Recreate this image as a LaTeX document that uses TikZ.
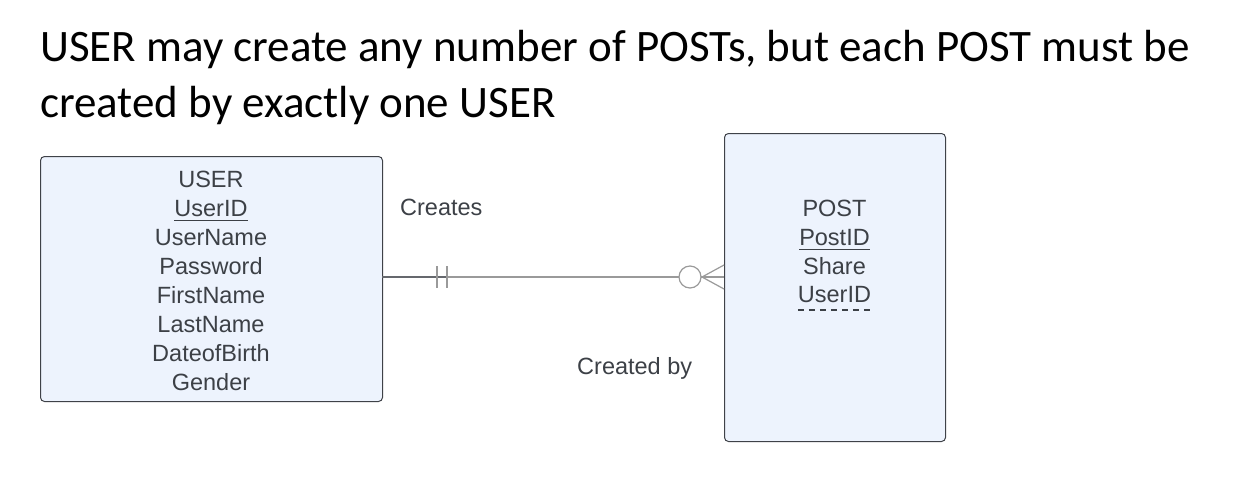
\documentclass[tikz,border=0pt]{standalone}
\usepackage{fontspec}
\setmainfont{Liberation Sans}
\newfontfamily\titlefont{Carlito}
\definecolor{boxfill}{HTML}{EDF3FD}
\definecolor{boxline}{HTML}{3F4248}
\definecolor{txt}{HTML}{3C4046}
\definecolor{relline}{HTML}{9A9A9A}
\begin{document}
\begin{tikzpicture}[x=1pt,y=-1pt,
  entity/.style={draw=boxline,fill=boxfill,line width=1pt,rounded corners=4pt,inner sep=0,anchor=north west},
  attr/.style={inner sep=0,anchor=base,text=txt,font=\fontsize{23.5}{28}\selectfont},
  lbl/.style={inner sep=0,anchor=base west,text=txt,font=\fontsize{23.5}{28}\selectfont},
  ttl/.style={inner sep=0,anchor=base west,font=\titlefont\fontsize{45}{54}\selectfont},
  rel/.style={draw=relline,line width=1.2pt}]
\useasboundingbox (0,0) rectangle (1238,493);
\node[ttl] (t1) at (40,61) {USER may create any number of POSTs, but each POST must be};
\node[ttl] (t2) at (40,117) {created by exactly one USER};
\node[entity,minimum width=342,minimum height=245] (user) at (40,156) {};
\node[entity,minimum width=221,minimum height=308] (post) at (724,133) {};
\node[attr] (u1) at (211,187) {USER};
\node[attr] (u2) at (211,216) {UserID};
\node[attr] (u3) at (211,245) {UserName};
\node[attr] (u4) at (211,274) {Password};
\node[attr] (u5) at (211,303) {FirstName};
\node[attr] (u6) at (211,332) {LastName};
\node[attr] (u7) at (211,361) {DateofBirth};
\node[attr] (u8) at (211,390) {Gender};
\draw[txt,line width=1pt] ([yshift=-4]u2.base west) -- ([yshift=-4]u2.base east);
\node[attr] (p1) at (834.5,216) {POST};
\node[attr] (p2) at (834.5,245) {PostID};
\node[attr] (p3) at (834.5,274) {Share};
\node[attr] (p4) at (834.5,302) {UserID};
\draw[txt,line width=1pt] ([yshift=-4]p2.base west) -- ([yshift=-4]p2.base east);
\draw[txt,line width=1.2pt,dash pattern=on 6pt off 5pt] ([yshift=-8]p4.base west) -- ([yshift=-8]p4.base east);
\node[lbl] (c1) at (400,215) {Creates};
\node[lbl] (c2) at (577,374) {Created by};
\coordinate (a) at (382,277);
\coordinate (b) at (724,277);
\draw[rel] (a) -- (b);
\draw[draw=boxline!80,line width=1.2pt] (a) -- (447,277);
\draw[rel] (437,266) -- (437,288);
\draw[rel] (447,266) -- (447,288);
\draw[rel,fill=white] (690,277) circle (11);
\draw[rel] (724,265) -- (702,277) -- (724,289);
\end{tikzpicture}
\end{document}
